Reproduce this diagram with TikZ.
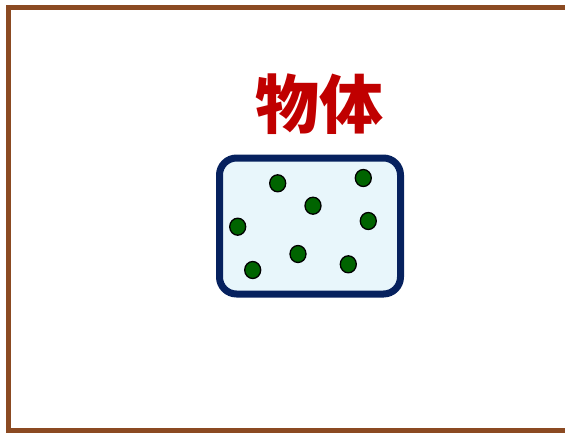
\documentclass[tikz,border=0pt]{standalone}
\usepackage{fontspec}
\newfontfamily\cjk{Noto Sans CJK SC}
\usetikzlibrary{positioning, shapes.geometric}
\definecolor{framebrown}{HTML}{8B4A22}
\definecolor{titlered}{HTML}{C00000}
\definecolor{boxblue}{HTML}{06215E}
\definecolor{boxfill}{HTML}{E8F6FB}
\definecolor{dotgreen}{HTML}{006400}

\begin{document}
\begin{tikzpicture}[x=1pt, y=-1pt]
	\useasboundingbox (0,0) rectangle (565,432);
	\clip (0,0) rectangle (565,432);
	\draw[framebrown, line width=5pt] (8.5,7.5) rectangle (580,430);
	\node[rectangle, rounded corners=17pt, draw=boxblue, fill=boxfill, line width=7pt, minimum width=181pt, minimum height=136pt] (body) at (310,226) {};
	\node[text=titlered, font=\cjk\bfseries\fontsize{64}{64}\selectfont, inner sep=0pt] (title) at (319,104) {物体};
	\tikzset{particle/.style={ellipse, draw=black, fill=dotgreen, line width=1.3pt, minimum width=16pt, minimum height=17pt, inner sep=0pt}}
	\node[particle] (d1) at (277.7,183.3) {};
	\node[particle] (d2) at (363.3,178) {};
	\node[particle] (d3) at (313,205.7) {};
	\node[particle] (d4) at (368.3,221) {};
	\node[particle] (d5) at (237.7,226.7) {};
	\node[particle] (d6) at (298,254) {};
	\node[particle] (d7) at (252.7,270) {};
	\node[particle] (d8) at (348.3,264.3) {};
\end{tikzpicture}
\end{document}
